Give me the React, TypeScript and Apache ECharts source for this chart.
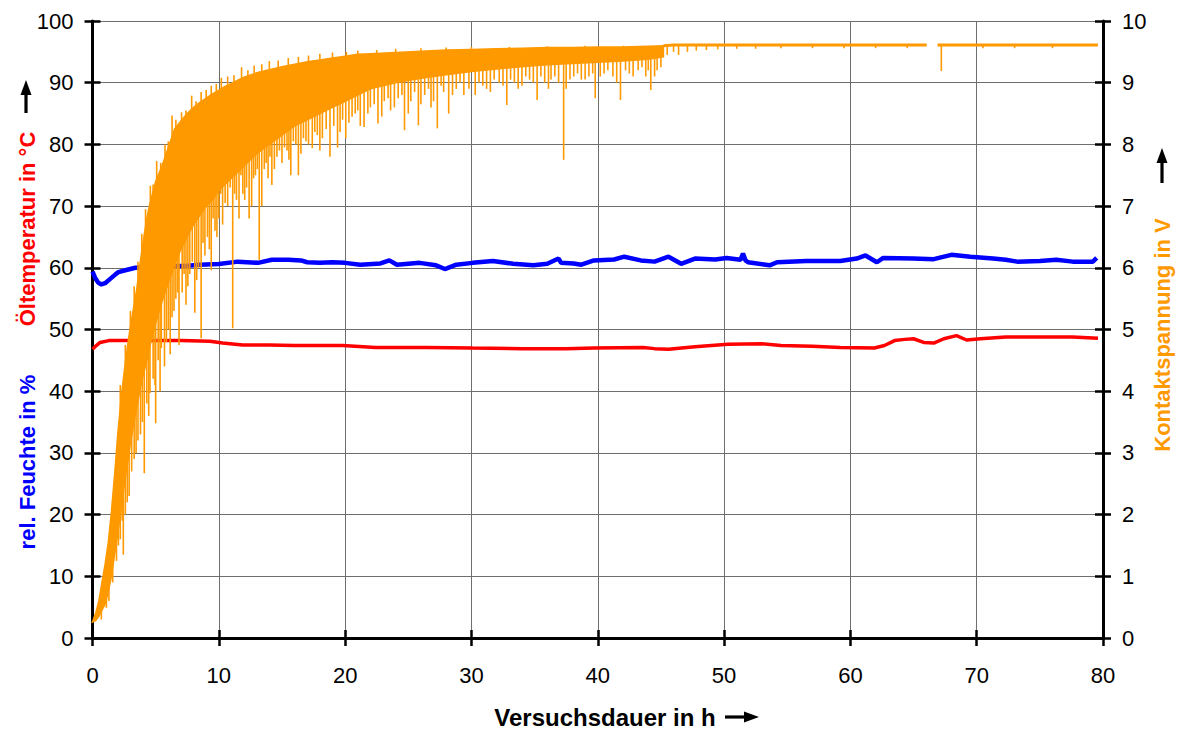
import React, { useEffect, useRef } from "react";
import * as echarts from "echarts";

// ---- data ----
const xTicks = [0, 10, 20, 30, 40, 50, 60, 70, 80];

// rel. Feuchte in % (left axis)
const humT = [0, 0.2, 0.45, 0.7, 1.0, 1.4, 1.8, 2.05, 2.6, 3.4, 4.5, 5.5, 6.5, 7.3, 8.5, 10.0, 11.5, 13.1, 14.2, 15.5, 16.5, 17.0, 18.0, 19.0, 20.0, 21.2, 22.8, 23.5, 24.1, 25.9, 27.2, 27.9, 28.8, 30.1, 31.7, 33.3, 34.9, 36.0, 36.9, 37.1, 38.1, 38.7, 39.7, 41.3, 42.1, 43.4, 44.5, 45.6, 46.6, 47.7, 49.3, 50.2, 51.3, 51.5, 51.7, 51.9, 53.6, 54.2, 56.5, 59.2, 60.5, 61.2, 62.1, 62.6, 65.0, 66.6, 68.0, 69.5, 71.3, 72.3, 73.2, 75.0, 76.3, 77.6, 79.2, 79.5];
const humV = [59.4, 58.4, 57.6, 57.3, 57.5, 58.2, 58.9, 59.3, 59.6, 60.0, 60.1, 60.2, 60.3, 60.3, 60.5, 60.6, 61.0, 60.8, 61.3, 61.3, 61.2, 60.9, 60.8, 60.9, 60.8, 60.5, 60.7, 61.2, 60.5, 60.8, 60.4, 59.8, 60.5, 60.8, 61.1, 60.65, 60.4, 60.65, 61.5, 60.8, 60.7, 60.5, 61.2, 61.35, 61.8, 61.2, 61.0, 61.8, 60.65, 61.5, 61.35, 61.6, 61.3, 62.3, 61.2, 60.9, 60.4, 60.9, 61.1, 61.1, 61.5, 62.0, 60.9, 61.6, 61.5, 61.4, 62.1, 61.8, 61.5, 61.3, 61.0, 61.1, 61.3, 61.0, 61.0, 61.6];

// Öltemperatur in °C (left axis)
const oilT = [0, 0.3, 0.6, 1.3, 3, 5, 7, 9.3, 10.3, 11.9, 14, 16, 19.8, 22.4, 23.8, 26.4, 30.1, 34, 37.5, 39.7, 43.6, 44.5, 45.6, 47.7, 50.3, 53, 54.5, 57, 59.2, 61.9, 62.7, 63.5, 64.3, 65.0, 65.8, 66.6, 67.4, 68.4, 69.2, 70.3, 72.3, 75, 77.6, 79.6];
const oilV = [46.8, 47.4, 47.9, 48.2, 48.2, 48.2, 48.2, 48.1, 47.8, 47.5, 47.5, 47.4, 47.4, 47.1, 47.1, 47.1, 47.0, 46.9, 46.9, 47.0, 47.1, 46.9, 46.8, 47.2, 47.6, 47.7, 47.4, 47.3, 47.1, 47.0, 47.4, 48.2, 48.4, 48.5, 47.9, 47.8, 48.5, 49.0, 48.3, 48.5, 48.8, 48.8, 48.8, 48.6];

// Kontaktspannung in V (right axis): dense oscillation band (upper / lower envelope)
const bandT = [0, 0.25, 0.5, 0.75, 1.0, 1.25, 1.5, 1.75, 2.0, 2.25, 2.5, 2.75, 3.0, 3.25, 3.5, 3.75, 4.0, 4.25, 4.5, 4.75, 5.0, 5.5, 6.0, 6.5, 7.0, 7.5, 8.0, 8.5, 9.0, 9.5, 10, 10.5, 11, 11.5, 12, 13, 14, 15, 16, 17, 18, 19, 20, 21, 22, 24, 26, 28, 30, 32, 34, 36, 38, 40, 42, 44, 45.2];
const bandHigh = [0.26, 0.4, 0.6, 0.9, 1.2, 1.55, 2.05, 2.65, 3.3, 3.85, 4.3, 4.7, 5.05, 5.35, 5.65, 6.05, 6.4, 6.75, 7.0, 7.2, 7.4, 7.65, 7.95, 8.25, 8.38, 8.5, 8.6, 8.68, 8.75, 8.82, 8.88, 8.94, 8.99, 9.04, 9.09, 9.16, 9.21, 9.26, 9.3, 9.34, 9.37, 9.4, 9.43, 9.46, 9.47, 9.49, 9.51, 9.53, 9.54, 9.55, 9.56, 9.57, 9.57, 9.58, 9.58, 9.59, 9.6];
const bandLow = [0.26, 0.28, 0.35, 0.45, 0.55, 0.75, 1.0, 1.35, 1.7, 2.05, 2.45, 2.8, 3.15, 3.45, 3.75, 4.0, 4.25, 4.45, 4.7, 4.9, 5.1, 5.45, 5.75, 6.05, 6.3, 6.5, 6.7, 6.85, 7.0, 7.1, 7.25, 7.35, 7.45, 7.55, 7.65, 7.85, 8.0, 8.15, 8.3, 8.4, 8.5, 8.6, 8.7, 8.8, 8.9, 9.0, 9.07, 9.13, 9.18, 9.22, 9.26, 9.29, 9.31, 9.33, 9.35, 9.38, 9.42];

// downward spikes of the voltage signal: time, lowest value
const spikeT = [0.7, 1.1, 1.3, 1.6, 1.9, 2.2, 2.44, 2.6, 2.9, 3.1, 3.3, 3.6, 3.8, 4.1, 4.3, 4.55, 4.8, 5.0, 5.2, 5.45, 5.7, 6.0, 6.3, 6.6, 6.85, 7.1, 7.4, 7.7, 8.1, 8.4, 8.6, 8.9, 9.1, 9.4, 9.7, 10.0, 10.3, 10.7, 11.1, 11.4, 11.6, 11.9, 12.2, 12.6, 12.9, 13.2, 13.6, 13.9, 14.2, 14.6, 15.0, 15.4, 15.7, 16.1, 16.5, 16.9, 17.4, 17.8, 18.2, 18.8, 19.1, 19.4, 19.8, 20.3, 20.8, 21.2, 21.5, 22.0, 22.6, 23.1, 23.6, 24.2, 24.7, 25.2, 25.8, 26.3, 26.8, 27.3, 27.8, 28.2, 28.8, 29.4, 30.3, 30.9, 31.5, 32.2, 32.8, 33.4, 34.0, 34.6, 35.2, 35.8, 36.3, 36.9, 37.3, 37.5, 38.1, 38.7, 39.3, 39.8, 40.5, 41.2, 41.8, 42.5, 43.2, 43.8, 44.2, 44.7, 45.5, 46.0, 46.4, 47.1, 47.8, 48.6, 49.5, 51.0, 52.5, 54.5, 57.0, 59.5, 62.0, 64.5, 67.2, 70.5, 73.0, 76.0];
const spikeV = [0.3, 0.49, 0.6, 0.9, 1.25, 1.6, 1.35, 2.0, 2.3, 2.7, 2.9, 3.2, 3.3, 2.67, 3.8, 3.97, 4.2, 3.48, 4.5, 4.7, 4.4, 5.0, 5.2, 5.5, 4.75, 5.6, 5.4, 5.9, 5.27, 6.0, 4.86, 6.2, 6.5, 5.96, 6.6, 6.8, 6.7, 7.0, 5.02, 7.1, 6.8, 7.2, 7.3, 7.0, 7.5, 6.13, 7.6, 7.45, 7.34, 7.8, 7.7, 7.9, 7.5, 8.0, 7.85, 8.05, 7.94, 8.15, 8.1, 7.8, 8.3, 7.95, 8.4, 8.35, 8.5, 8.3, 8.28, 8.6, 8.34, 8.7, 8.55, 8.75, 8.23, 8.7, 8.31, 8.8, 8.6, 8.26, 8.85, 8.5, 8.9, 8.8, 8.8, 8.95, 8.85, 9.0, 8.64, 9.0, 8.95, 9.05, 8.72, 9.0, 9.05, 9.0, 7.75, 8.9, 9.1, 9.05, 9.1, 8.75, 9.15, 9.1, 8.72, 9.15, 9.2, 9.1, 8.88, 9.2, 9.45, 9.5, 9.45, 9.5, 9.52, 9.53, 9.54, 9.55, 9.55, 9.56, 9.56, 9.56, 9.56, 9.56, 9.19, 9.56, 9.56, 9.56];
const extraSpikeT = [2.05, 2.35, 2.75, 3.45, 3.95, 4.45, 4.95, 5.35, 5.85, 6.15, 6.45, 6.75, 7.25, 7.55, 7.9, 8.25, 8.75, 9.25, 9.55, 9.85, 10.15, 10.5, 10.9, 11.25, 11.75, 12.05, 12.4, 12.75, 13.05, 13.4, 13.75, 14.05, 14.4, 14.8, 15.2, 15.55, 15.9, 16.3, 16.7, 17.1, 17.6, 18.0, 18.5, 19.6, 20.05, 20.55, 21.0, 21.8, 22.3, 22.9, 23.4, 23.9, 24.5, 25.0, 25.5, 26.0, 26.6, 27.0, 27.6, 28.5, 29.1, 29.8, 30.6, 31.2, 31.8, 32.5, 33.1, 33.7, 34.3, 34.9, 35.5, 36.1, 36.6, 37.8, 38.4, 39.0, 39.6, 40.2, 40.8, 41.5, 42.2, 42.8, 43.5, 44.0, 44.5, 45.0];
const extraSpikeV = [1.5, 1.9, 2.2, 3.0, 3.5, 3.6, 4.1, 4.0, 4.8, 4.6, 5.3, 5.6, 5.9, 5.7, 6.1, 5.8, 6.4, 6.3, 6.8, 6.5, 7.2, 7.05, 7.3, 7.2, 7.5, 7.1, 6.8, 7.45, 7.6, 7.0, 7.7, 7.8, 7.6, 7.9, 7.95, 7.75, 8.05, 7.5, 8.1, 8.0, 8.2, 7.9, 8.25, 8.2, 8.1, 8.45, 8.55, 8.5, 8.65, 8.45, 8.75, 8.6, 8.8, 8.5, 8.85, 8.65, 8.9, 8.7, 8.95, 8.8, 9.0, 8.9, 9.0, 8.9, 9.05, 8.95, 9.05, 8.9, 9.1, 9.0, 9.1, 8.9, 9.1, 9.05, 9.15, 9.05, 9.15, 9.1, 9.2, 9.0, 9.2, 9.1, 9.25, 9.2, 9.1, 9.25];
// upward spikes (peaks above the dense band)
const upSpikeT = [2.2, 2.6, 3.0, 3.3, 3.6, 3.9, 4.2, 4.58, 4.8, 5.08, 5.4, 5.74, 6.0, 6.3, 6.6, 7.05, 7.4, 7.85, 8.2, 8.6, 9.0, 9.4, 9.8, 10.2, 10.7, 11.2, 11.8, 12.3, 12.8, 13.4, 14.0, 14.7, 15.5, 16.3, 17.1, 18.0, 19.0, 20.1, 21.0, 22.5, 24, 26, 28, 30, 33, 36, 39, 42];
const upSpikeV = [4.1, 4.75, 5.3, 5.7, 6.1, 6.55, 6.95, 7.33, 7.35, 7.73, 7.7, 8.0, 8.05, 8.47, 8.4, 8.52, 8.55, 8.79, 8.7, 8.85, 8.88, 8.95, 8.98, 9.08, 9.1, 9.12, 9.25, 9.2, 9.28, 9.3, 9.35, 9.36, 9.4, 9.42, 9.44, 9.47, 9.49, 9.5, 9.52, 9.53, 9.55, 9.56, 9.57, 9.58, 9.58, 9.59, 9.6, 9.6];

// steady voltage after ~45 h (null = signal gap)
const flatT = [45.2, 46, 50, 55, 60, 66.05, 66.5, 66.9, 70, 75, 79.6];
const flatV = [9.6, 9.61, 9.61, 9.61, 9.61, 9.61, null, 9.61, 9.61, 9.61, 9.61];

// ---- styles ----
const FONT = "'Liberation Sans', Arial, Helvetica, sans-serif";
const ORANGE = "#FF9900";
const BLUE = "#0000FF";
const RED = "#FF0000";
const GRID_COLOR = "#6e6e6e";

function envAt(arr: number[], t: number, after: number): number {
  if (t >= bandT[bandT.length - 1]) return after;
  for (let i = 1; i < bandT.length; i++) {
    if (t <= bandT[i]) {
      const f = (t - bandT[i - 1]) / (bandT[i] - bandT[i - 1]);
      return arr[i - 1] + f * (arr[i] - arr[i - 1]);
    }
  }
  return arr[arr.length - 1];
}

function arrow(x1: number, y1: number, x2: number, y2: number) {
  const dx = x2 - x1, dy = y2 - y1;
  const len = Math.sqrt(dx * dx + dy * dy);
  const ux = dx / len, uy = dy / len;
  const hl = 15, hw = 5.5;
  const bx = x2 - ux * hl, by = y2 - uy * hl;
  return [
    { type: "line", shape: { x1, y1, x2: bx + ux, y2: by + uy }, style: { stroke: "#000", lineWidth: 3.2 } },
    {
      type: "polygon",
      shape: { points: [[x2, y2], [bx - uy * hw, by + ux * hw], [bx + uy * hw, by - ux * hw]] },
      style: { fill: "#000" },
    },
  ];
}

export default function App() {
  const ref = useRef<HTMLDivElement>(null);
  useEffect(() => {
    if (!ref.current) return;
    const chart = echarts.init(ref.current, null, { renderer: "svg" });

    const axisLineStyle = { color: "#000", width: 3 };
    const tickStyle = { color: "#000", width: 2.5 };
    const labelStyle = { color: "#000", fontSize: 22, fontFamily: FONT };

    const spikeData = [
      ...spikeT.map((t, i) => [t, spikeV[i]]),
      ...extraSpikeT.map((t, i) => [t, extraSpikeV[i]]),
      ...upSpikeT.map((t, i) => [t, upSpikeV[i]]),
    ];

    const option: any = {
      animation: false,
      backgroundColor: "#fff",
      grid: { left: 92.5, right: 76, top: 21, bottom: 91, containLabel: false },
      xAxis: [
        {
          type: "value", min: 0, max: 80, interval: 10, position: "bottom",
          axisLine: { show: true, onZero: false, lineStyle: axisLineStyle },
          axisTick: { show: true, inside: false, length: 8, lineStyle: tickStyle },
          axisLabel: { ...labelStyle, margin: 26, formatter: (v: number) => (xTicks.indexOf(v) >= 0 ? String(v) : "") },
          splitLine: { show: true, lineStyle: { color: GRID_COLOR, width: 1 } },
        },
        {
          type: "value", min: 0, max: 80, interval: 10, position: "bottom",
          axisLine: { show: false, onZero: false },
          axisTick: { show: true, inside: true, length: 8, lineStyle: tickStyle },
          axisLabel: { show: false },
          splitLine: { show: false },
        },
      ],
      yAxis: [
        {
          type: "value", min: 0, max: 100, interval: 10, position: "left",
          axisLine: { show: true, onZero: false, lineStyle: axisLineStyle },
          axisTick: { show: true, inside: false, length: 8, lineStyle: tickStyle },
          axisLabel: { ...labelStyle, margin: 19 },
          splitLine: { show: true, lineStyle: { color: GRID_COLOR, width: 1 } },
        },
        {
          type: "value", min: 0, max: 10, interval: 1, position: "right",
          axisLine: { show: true, onZero: false, lineStyle: axisLineStyle },
          axisTick: { show: true, inside: false, length: 8, lineStyle: tickStyle },
          axisLabel: { ...labelStyle, margin: 19 },
          splitLine: { show: false },
        },
        {
          type: "value", min: 0, max: 100, interval: 10, position: "left",
          axisLine: { show: false, onZero: false },
          axisTick: { show: true, inside: true, length: 8, lineStyle: tickStyle },
          axisLabel: { show: false },
          splitLine: { show: false },
        },
        {
          type: "value", min: 0, max: 10, interval: 1, position: "right",
          axisLine: { show: false, onZero: false },
          axisTick: { show: true, inside: true, length: 8, lineStyle: tickStyle },
          axisLabel: { show: false },
          splitLine: { show: false },
        },
      ],
      series: [
        {
          name: "rel. Feuchte", type: "line", xAxisIndex: 0, yAxisIndex: 0,
          data: humT.map((t, i) => [t, humV[i]]),
          showSymbol: false, symbol: "none", smooth: false,
          lineStyle: { color: BLUE, width: 4.5 }, z: 3,
        },
        {
          name: "Öltemperatur", type: "line", xAxisIndex: 0, yAxisIndex: 0,
          data: oilT.map((t, i) => [t, oilV[i]]),
          showSymbol: false, symbol: "none",
          lineStyle: { color: RED, width: 3.5 }, z: 3,
        },
        {
          name: "Kontaktspannung", type: "custom", xAxisIndex: 0, yAxisIndex: 1,
          data: [[bandT[0], bandLow[0]]], silent: true, z: 4,
          renderItem: (_p: any, api: any) => {
            const pts: number[][] = [];
            for (let i = 0; i < bandT.length; i++) pts.push(api.coord([bandT[i], bandHigh[i]]));
            for (let i = bandT.length - 1; i >= 0; i--) pts.push(api.coord([bandT[i], bandLow[i]]));
            return { type: "polygon", shape: { points: pts }, style: { fill: ORANGE, stroke: ORANGE, lineWidth: 1.5 } };
          },
        },
        {
          name: "Kontaktspannung Spitzen", type: "custom", xAxisIndex: 0, yAxisIndex: 1,
          data: spikeData, silent: true, z: 4,
          renderItem: (_p: any, api: any) => {
            const t = api.value(0);
            const v = api.value(1);
            const hi = envAt(bandHigh, t, 9.61);
            let from: number;
            if (v > hi) from = hi - 0.1;
            else from = envAt(bandLow, t, 9.61) + (t < 45.2 ? 0.15 : 0);
            const a = api.coord([t, from]);
            const b = api.coord([t, v]);
            return { type: "line", shape: { x1: a[0], y1: a[1], x2: b[0], y2: b[1] }, style: { stroke: ORANGE, lineWidth: 1.6 } };
          },
        },
        {
          name: "Kontaktspannung konstant", type: "line", xAxisIndex: 0, yAxisIndex: 1,
          data: flatT.map((t, i) => [t, flatV[i] === null ? "-" : flatV[i]]),
          showSymbol: false, symbol: "none", connectNulls: false,
          lineStyle: { color: ORANGE, width: 3 }, z: 4,
        },
      ],
      graphic: [
        {
          type: "text", x: 27, y: 462, rotation: Math.PI / 2,
          style: { text: "rel. Feuchte in %", fill: BLUE, font: `bold 22px ${FONT}`, align: "center", verticalAlign: "middle" },
        },
        {
          type: "text", x: 27, y: 229, rotation: Math.PI / 2,
          style: { text: "Öltemperatur in °C", fill: RED, font: `bold 22px ${FONT}`, align: "center", verticalAlign: "middle" },
        },
        ...arrow(26, 113, 26, 80),
        {
          type: "text", x: 1162, y: 335, rotation: Math.PI / 2,
          style: { text: "Kontaktspannung in V", fill: ORANGE, font: `bold 22px ${FONT}`, align: "center", verticalAlign: "middle" },
        },
        ...arrow(1162, 183, 1162, 148),
        {
          type: "text", x: 605, y: 717,
          style: { text: "Versuchsdauer in h", fill: "#000", font: `bold 24px ${FONT}`, align: "center", verticalAlign: "middle" },
        },
        ...arrow(725, 717, 759, 717),
      ],
    };
    chart.setOption(option);
    return () => chart.dispose();
  }, []);
  return (
    <div
      ref={ref}
      style={{ position: "fixed", left: 0, top: 0, width: 1179, height: 729, background: "#fff" }}
    />
  );
}
